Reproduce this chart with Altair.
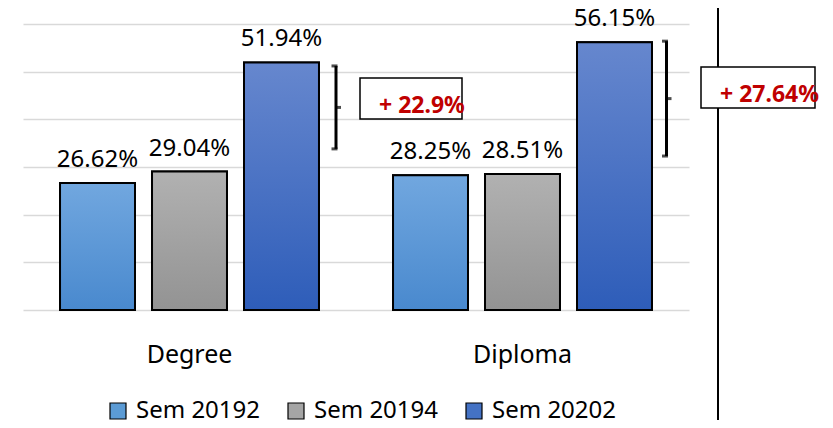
import altair as alt
import pandas as pd

programmes = ["Degree", "Diploma"]
semesters = ["Sem 20192", "Sem 20194", "Sem 20202"]
sem20192 = [26.62, 28.25]
sem20194 = [29.04, 28.51]
sem20202 = [51.94, 56.15]
change_labels = ["+ 22.9%", "+ 27.64%"]
bracket_top = [51.2, 56.4]
bracket_bottom = [33.8, 32.3]

rows = []
for i, p in enumerate(programmes):
    for s, vals in zip(semesters, [sem20192, sem20194, sem20202]):
        rows.append({"programme": p, "semester": s, "value": vals[i]})
df = pd.DataFrame(rows)

ann = pd.DataFrame({
    "programme": programmes,
    "label": change_labels,
    "top": bracket_top,
    "bottom": bracket_bottom,
})

FONT = "Noto Sans"
legend_colors = ["#5B9BD5", "#A5A5A5", "#4472C4"]
grad_stops = {
    "Sem 20192": ("#71A7DF", "#4989CE"),
    "Sem 20194": ("#B1B1B1", "#939393"),
    "Sem 20202": ("#6687CE", "#2E5DB9"),
}

yscale = alt.Scale(domain=[0, 60], nice=False, zero=True)
xscale = alt.Scale(domain=programmes, paddingInner=0, paddingOuter=0)
xoscale = alt.Scale(domain=semesters, paddingInner=0.185, paddingOuter=0.4025)

X = alt.X("programme:N", scale=xscale, sort=programmes, title=None,
          axis=alt.Axis(labelFont=FONT, labelFontSize=25, labelColor="#000000",
                        labelAngle=0, labelBaseline="alphabetic", labelPadding=52,
                        ticks=False, tickSize=0, domain=False, grid=False))
XO = alt.XOffset("semester:N", scale=xoscale, sort=semesters)
Y = alt.Y("value:Q", scale=yscale, title=None,
          axis=alt.Axis(values=[0, 10, 20, 30, 40, 50, 60], labels=False, ticks=False,
                        domain=False, grid=True, gridColor="#D9D9D9", gridWidth=1.5))

base = alt.Chart(df)

legend_bars = base.mark_bar(stroke="#000000", strokeWidth=2).encode(
    x=X, xOffset=XO, y=Y,
    color=alt.Color("semester:N", scale=alt.Scale(domain=semesters, range=legend_colors),
                    sort=semesters,
                    legend=alt.Legend(title=None, orient="none", direction="horizontal",
                                      legendX=83, legendY=375, symbolType="square",
                                      symbolSize=256, symbolStrokeColor="#000000",
                                      symbolStrokeWidth=1.2, labelFont=FONT,
                                      labelFontSize=24, labelColor="#000000",
                                      labelLimit=300,
                                      labelOffset=6, columnPadding=23, padding=0)),
)

layers = [legend_bars]
for s in semesters:
    top_c, bot_c = grad_stops[s]
    grad = alt.Gradient(gradient="linear", x1=0, x2=0, y1=0, y2=1,
                        stops=[alt.GradientStop(color=top_c, offset=0),
                               alt.GradientStop(color=bot_c, offset=1)])
    layers.append(
        base.transform_filter(alt.datum.semester == s)
        .mark_bar(color=grad, stroke="#000000", strokeWidth=2)
        .encode(x=alt.X("programme:N", scale=xscale, sort=programmes),
                xOffset=XO, y=alt.Y("value:Q", scale=yscale))
    )

labels = base.transform_calculate(
    txt="format(datum.value, '.2f') + '%'"
).mark_text(font=FONT, fontSize=24, color="#000000", baseline="alphabetic", dy=-16).encode(
    x=alt.X("programme:N", scale=xscale, sort=programmes),
    xOffset=XO, y=alt.Y("value:Q", scale=yscale), text="txt:N",
)
layers.append(labels)

# separator line
sep = alt.Chart(df).mark_rule(color="#000000", strokeWidth=2).encode(
    x=alt.value(695), y=alt.value(-16), y2=alt.value(396)
)

styles = {
    "Degree": dict(line=146.5, box=221.5, w=102, box_dy=-9, tx=189.5, tdy=6),
    "Diploma": dict(line=144, box=235.5, w=114, box_dy=-11, tx=197.5, tdy=3),
}

ann_layers = []
box_layers = []
for p in programmes:
    st = styles[p]
    a = alt.Chart(ann).transform_filter(alt.datum.programme == p).transform_calculate(
        mid="(datum.top + datum.bottom) / 2"
    )
    xa = alt.X("programme:N", scale=xscale, sort=programmes)
    ann_layers.append(a.mark_rule(color="#000000", strokeWidth=3, xOffset=st["line"]).encode(
        x=xa, y=alt.Y("top:Q", scale=yscale), y2="bottom:Q"))
    for fld in ["top", "bottom"]:
        ann_layers.append(a.mark_tick(color="#000000", thickness=3, size=6,
                                      xOffset=st["line"] - 1.5).encode(
            x=xa, y=alt.Y(f"{fld}:Q", scale=yscale)))
    ann_layers.append(a.mark_tick(color="#000000", thickness=3, size=6,
                                  xOffset=st["line"] + 2).encode(
        x=xa, y=alt.Y("mid:Q", scale=yscale)))
    h = 41 / st["w"]
    path = f"M-1,-{h:.4f}L1,-{h:.4f}L1,{h:.4f}L-1,{h:.4f}Z"
    box_layers.append(a.mark_point(shape=path, size=st["w"] ** 2, filled=True, fill="#FFFFFF",
                                   stroke="#000000", strokeWidth=1.5, opacity=1,
                                   xOffset=st["box"], yOffset=st["box_dy"]).encode(
        x=xa, y=alt.Y("mid:Q", scale=yscale)))
    box_layers.append(a.mark_text(font=FONT, fontSize=23, fontWeight="bold", color="#C00000",
                                  align="left", baseline="alphabetic",
                                  dx=st["tx"], dy=st["tdy"]).encode(
        x=xa, y=alt.Y("mid:Q", scale=yscale), text="label:N"))

chart = alt.layer(*layers, *ann_layers, sep, *box_layers).properties(
    width=666, height=286,
    autosize=alt.AutoSizeParams(type="none"),
    padding={"left": 15, "top": 16, "right": 136, "bottom": 110},
    background="#FFFFFF",
).configure_view(stroke=None)

chart.save("out.html", embed_options={"renderer": "svg", "actions": False})
